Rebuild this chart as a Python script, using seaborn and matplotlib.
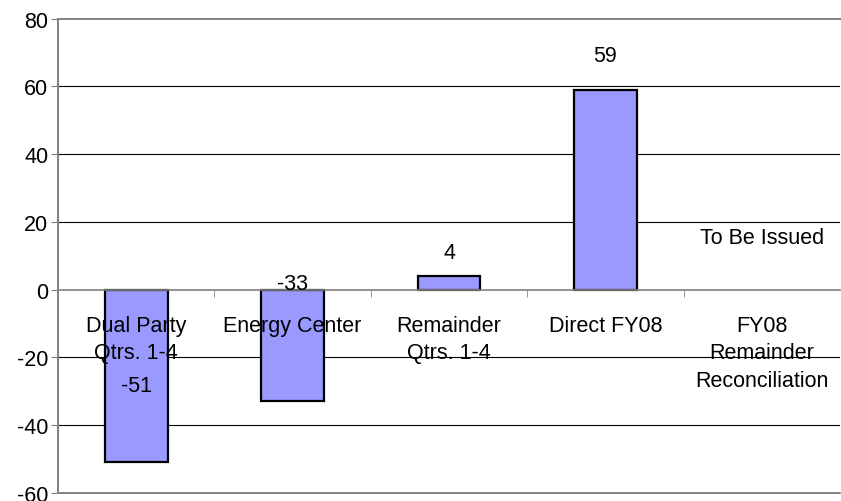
import seaborn as sns
import matplotlib.pyplot as plt
import pandas as pd

# chart values
categories = ["Dual Party\nQtrs. 1-4", "Energy Center", "Remainder\nQtrs. 1-4",
              "Direct FY08", "FY08\nRemainder\nReconciliation"]
values = [-51, -33, 4, 59, 0]
value_labels = ["-51", "-33", "4", "59", "To Be Issued"]
# where Excel put each data label (in data units)
label_y = [-28.4, 1.8, 11, 69, 15.4]

df = pd.DataFrame({"cat": categories, "val": values})

sns.set_style("white")
plt.rcParams["font.family"] = ["Liberation Sans", "DejaVu Sans"]
plt.rcParams["axes.unicode_minus"] = False
plt.rcParams["text.color"] = "black"
FS = 15.5

fig = plt.figure(figsize=(8.41, 5.02), dpi=100)
ax = fig.add_axes([0.069, 0.016, 0.930, 0.945])

# grid lines first so bars sit on top
for g in [-40, -20, 20, 40, 60]:
    ax.axhline(g, color="black", linewidth=0.8, zorder=0)

sns.barplot(data=df, x="cat", y="val", color="#9999FF", saturation=1,
            edgecolor="black", linewidth=1.6, width=0.4, ax=ax, zorder=2)

# the empty "To Be Issued" bar shows nothing in the original
for p in ax.patches:
    if p.get_height() == 0:
        p.set_linewidth(0)

ax.set_ylim(-60, 80)
ax.set_xlim(-0.5, 4.5)
ax.set_yticks(range(-60, 81, 20))
ax.set_xlabel("")
ax.set_ylabel("")

# frame like the Excel plot area
ax.spines["right"].set_visible(False)
ax.spines["top"].set_color("#808080")
ax.spines["top"].set_linewidth(1.4)
ax.spines["left"].set_color("#808080")
ax.spines["left"].set_linewidth(1.4)
ax.spines["bottom"].set_position(("data", 0))
ax.spines["bottom"].set_color("#808080")
ax.spines["bottom"].set_linewidth(1.2)
ax.axhline(-60, color="#808080", linewidth=1.4, clip_on=False, zorder=3)

ax.tick_params(axis="y", direction="out", length=5, color="#808080",
               labelsize=FS, labelcolor="black", pad=2, left=True)
# category names are drawn as texts so they sit on top of the bars
ax.set_xticks(range(len(categories)))
ax.set_xticklabels([""] * len(categories))
ax.tick_params(axis="x", which="major", length=0)
ax.set_xticks([0.5, 1.5, 2.5, 3.5], minor=True)
ax.tick_params(axis="x", which="minor", direction="out", length=5,
               color="#808080", bottom=True)

for i, name in enumerate(categories):
    ax.text(i, -7.4, name, ha="center", va="top", fontsize=FS,
            linespacing=1.4, color="black", zorder=4)

for i, (txt, y) in enumerate(zip(value_labels, label_y)):
    ax.text(i, y, txt, ha="center", va="center", fontsize=FS,
            color="black", zorder=4)

plt.savefig("out.png", dpi=100)
